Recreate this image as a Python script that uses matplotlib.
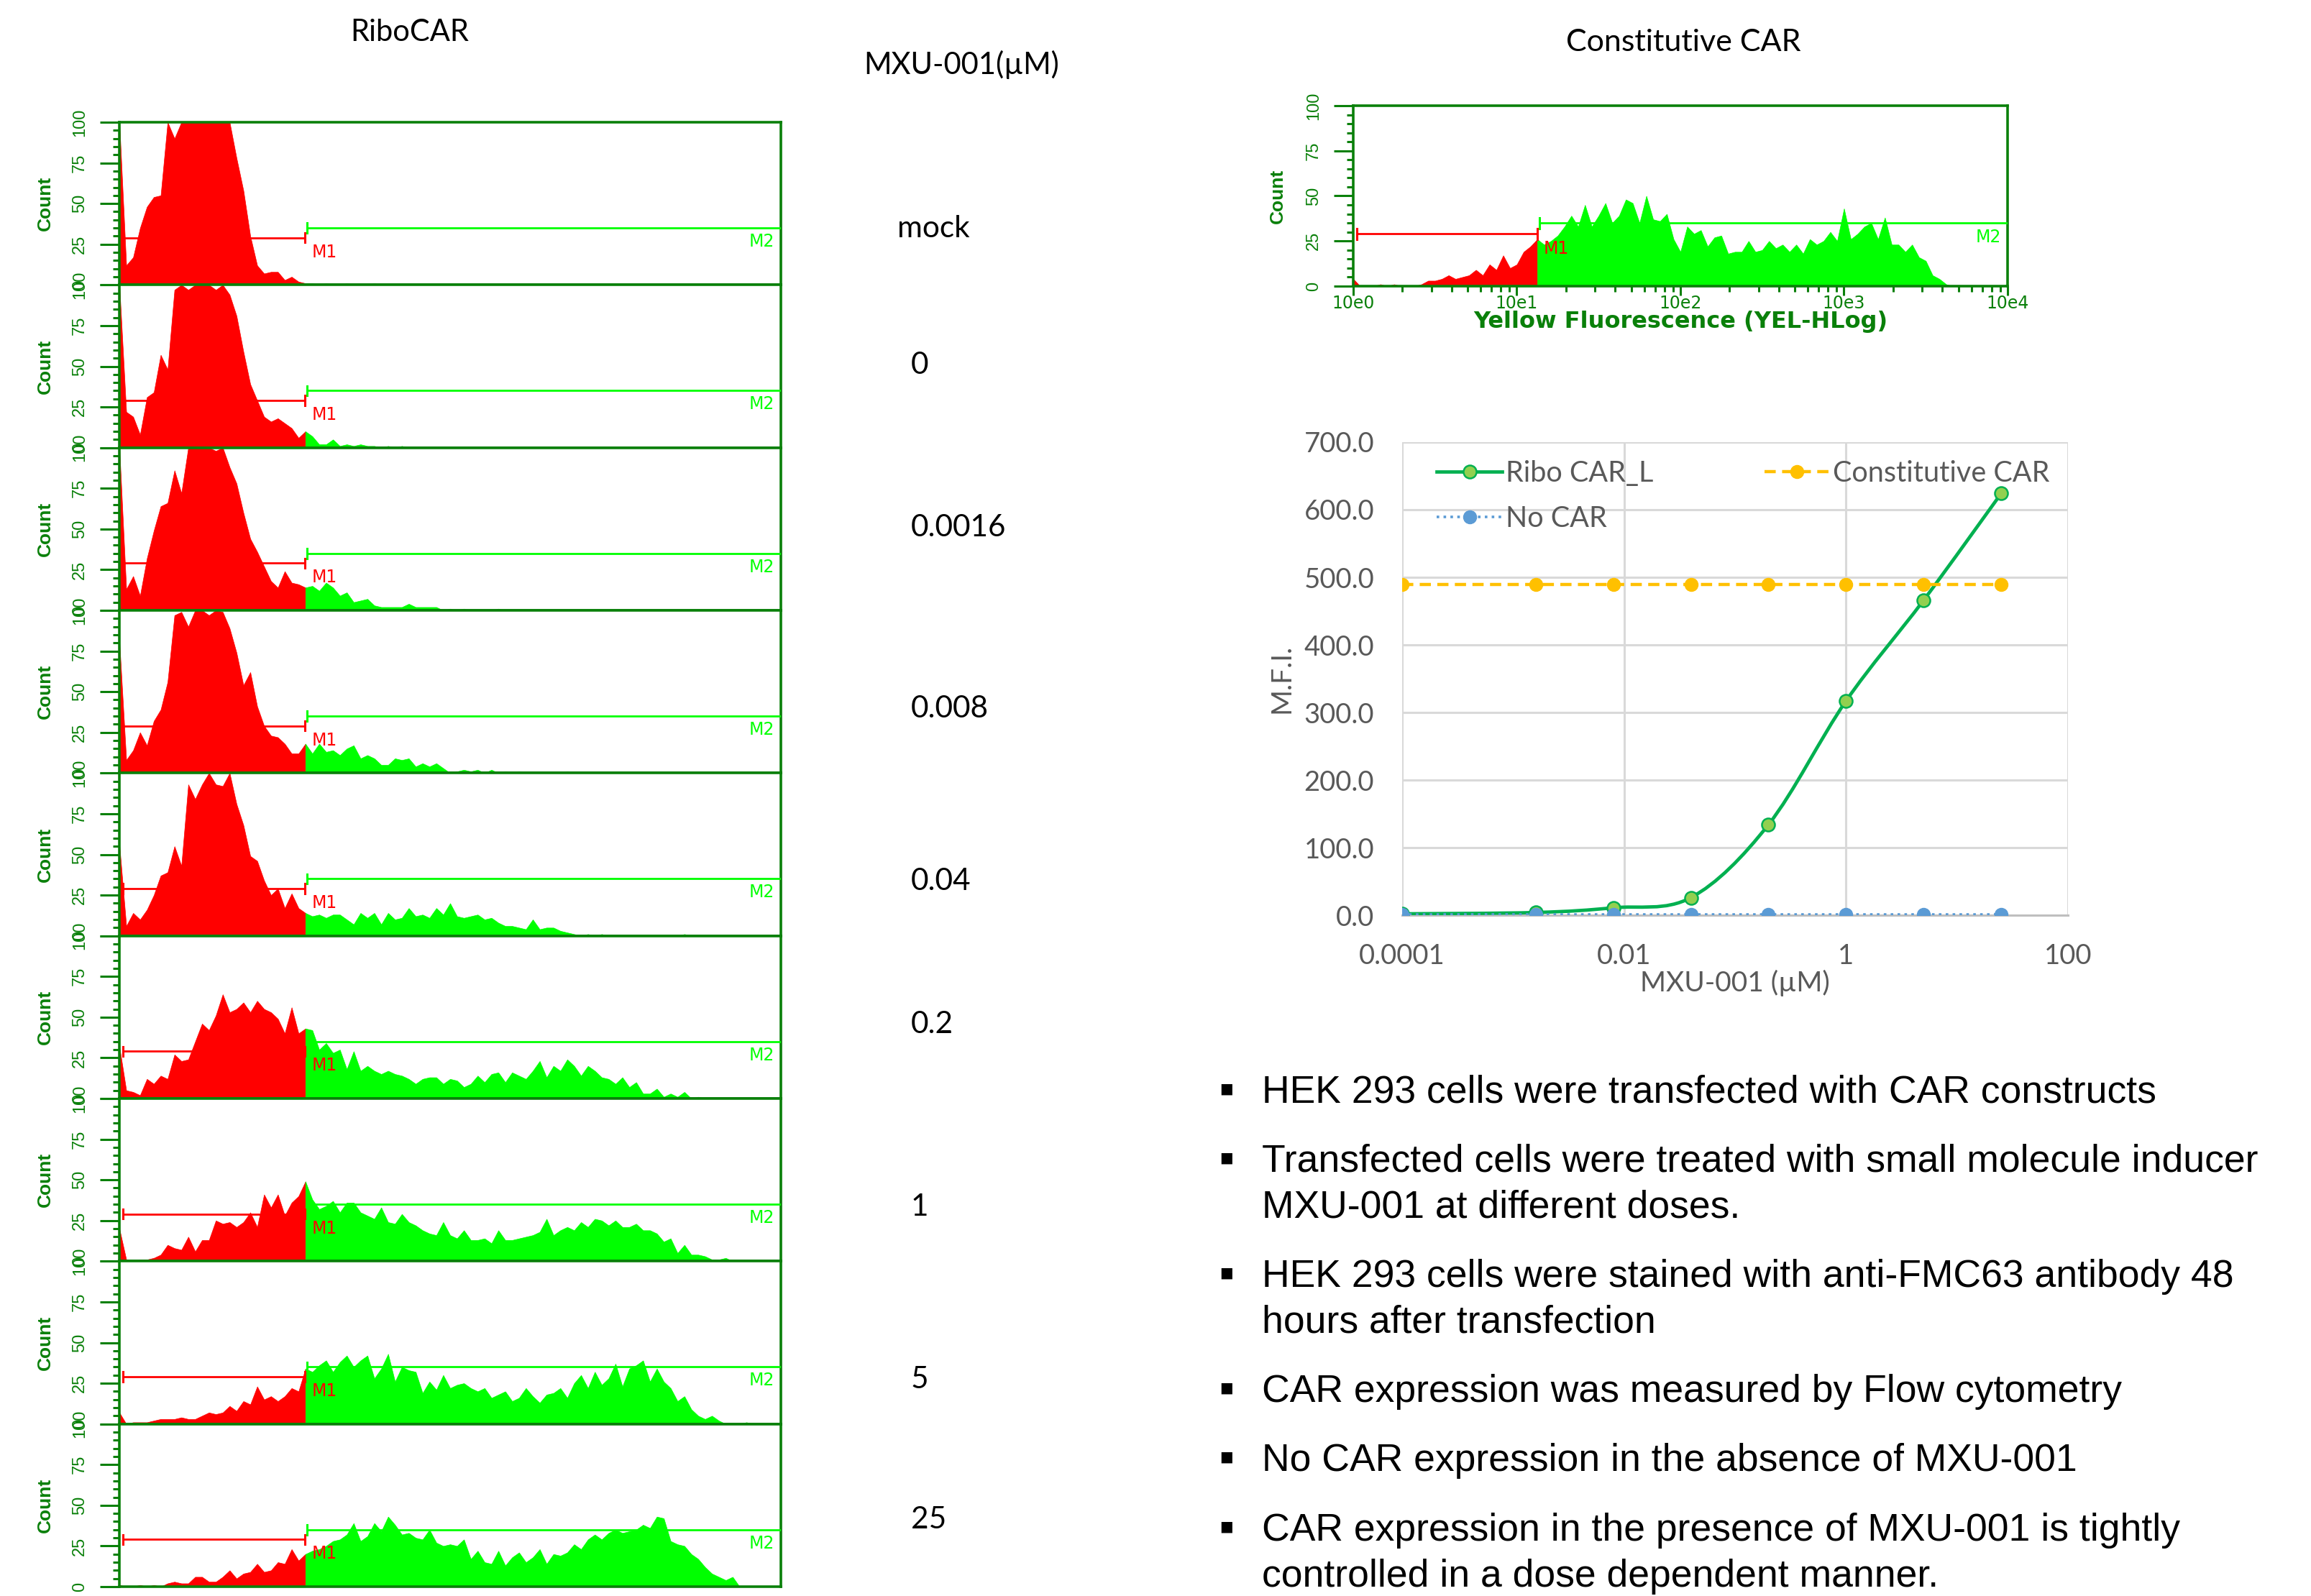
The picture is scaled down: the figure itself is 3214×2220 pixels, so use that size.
import numpy as np
import matplotlib
matplotlib.use("Agg")
import matplotlib.pyplot as plt
from matplotlib.lines import Line2D
from matplotlib.patches import PathPatch
from matplotlib.path import Path
from matplotlib.ticker import FixedLocator, MultipleLocator, NullLocator

FIG_W, FIG_H, DPI = 3214, 2220, 100

# ---- flow histograms: 24 channels per decade on the 10e0..10e4 YEL-HLog axis ----
CHANNELS_PER_DECADE = 24
GATE_CHANNEL = 27                 # M1 | M2 boundary
M1_RANGE = (1.05, 13.3)
M1_LEVEL = 29
M2_RANGE = (13.7, 10000.0)
M2_LEVEL = 35

DOSE_LABELS = ["mock", "0", "0.0016", "0.008", "0.04", "0.2", "1", "5", "25"]

HIST_MOCK = [
    100, 12, 17, 35, 48, 54, 55, 100, 90, 100, 100, 100, 100, 100, 100, 100,
    100, 78, 58, 30, 12, 7, 8, 8, 3, 5, 2, 1,
    1, 0, 1, 0, 0, 1, 0, 0, 0, 1, 0, 0, 0, 0, 0, 0, 0, 0, 0, 0, 0, 0, 0, 0,
    0, 0, 0, 0, 0, 0, 0, 0, 0, 0, 0, 0, 0, 0, 0, 0, 0, 0, 0, 0, 0, 0, 0, 0,
    0, 0, 0, 0, 0, 0, 0, 0, 0, 0, 0, 0, 0, 0, 0, 0, 0,
]
HIST_0 = [
    100, 22, 19, 8, 31, 34, 57, 48, 97, 100, 97, 100, 100, 100, 97, 100,
    94, 81, 59, 39, 29, 19, 16, 18, 15, 12, 6, 10,
    7, 2, 2, 5, 1, 2, 1, 2, 1, 1, 0, 1, 0, 1, 0, 0, 0, 0, 0, 0, 0, 0, 0, 0,
    0, 0, 0, 0, 0, 0, 0, 0, 0, 0, 0, 0, 0, 0, 0, 0, 0, 0, 0, 0, 0, 0, 0, 0,
    0, 0, 0, 0, 0, 0, 0, 0, 0, 0, 0, 0, 0, 0, 0, 0, 0,
]
HIST_0_0016 = [
    100, 13, 21, 9, 32, 49, 64, 66, 86, 72, 100, 100, 100, 100, 98, 100,
    88, 78, 60, 44, 36, 27, 18, 14, 24, 17, 16, 14,
    15, 12, 17, 14, 9, 11, 5, 6, 7, 3, 2, 2, 2, 2, 4, 2, 2, 2, 2, 0, 1, 0,
    1, 0, 0, 0, 0, 1, 0, 0, 0, 0, 0, 0, 0, 0, 0, 0, 0, 0, 0, 0, 0, 0, 0, 0,
    0, 0, 0, 0, 0, 0, 0, 0, 0, 0, 0, 0, 0, 0, 0, 0, 0, 0, 0, 0, 0, 0, 0,
]
HIST_0_008 = [
    81, 8, 14, 25, 17, 32, 39, 56, 97, 99, 90, 100, 100, 97, 100, 99,
    89, 74, 54, 62, 41, 29, 23, 22, 18, 12, 12, 18,
    12, 18, 13, 14, 11, 15, 17, 9, 11, 9, 5, 5, 9, 8, 9, 4, 6, 4, 6, 3, 0, 1,
    2, 1, 2, 0, 2, 0, 1, 0, 1, 0, 0, 0, 0, 0, 0, 1, 0, 0, 0, 0, 0, 0, 0, 0,
    0, 0, 0, 0, 0, 0, 0, 0, 0, 0, 0, 0, 0, 0, 0, 0, 0, 0, 0, 0, 0, 0, 0,
]
HIST_0_04 = [
    56, 6, 14, 10, 16, 25, 37, 39, 55, 43, 93, 84, 93, 100, 93, 92,
    100, 81, 68, 49, 46, 34, 25, 29, 17, 26, 17, 14,
    12, 13, 11, 13, 13, 10, 7, 14, 11, 14, 7, 14, 10, 11, 17, 12, 13, 11, 17, 13,
    20, 12, 11, 12, 13, 10, 11, 8, 6, 6, 5, 4, 10, 4, 5, 5, 3, 2, 1, 0, 1, 0,
    1, 0, 0, 0, 0, 0, 0, 0, 0, 0, 0, 0, 1, 0, 0, 0, 0, 0, 0, 0, 0, 0, 0, 0, 0, 0,
]
HIST_0_2 = [
    32, 5, 4, 2, 12, 9, 14, 12, 27, 23, 24, 35, 46, 42, 51, 64,
    53, 55, 59, 53, 60, 55, 53, 49, 40, 56, 40, 43,
    42, 30, 34, 28, 30, 18, 29, 17, 20, 17, 15, 17, 15, 14, 12, 9, 12, 13, 13, 9,
    12, 11, 7, 9, 14, 10, 15, 16, 10, 16, 14, 12, 17, 23, 13, 20, 17, 24, 20, 14,
    20, 17, 13, 12, 9, 13, 7, 10, 3, 3, 6, 1, 3, 1, 4, 0, 1,
    0, 0, 0, 0, 0, 0, 0, 0, 0, 0, 0, 0,
]
HIST_1 = [
    20, 1, 0, 1, 1, 2, 4, 10, 8, 7, 15, 6, 13, 13, 25, 23,
    24, 21, 24, 30, 21, 41, 33, 41, 28, 36, 40, 49,
    38, 32, 34, 37, 30, 36, 36, 30, 28, 26, 33, 24, 23, 29, 24, 22, 19, 17, 16, 24,
    16, 14, 19, 13, 13, 14, 11, 19, 13, 13, 14, 15, 16, 18, 26, 16, 19, 21, 19, 24,
    21, 26, 25, 22, 25, 21, 21, 23, 19, 19, 17, 12, 14, 5, 10, 4, 4, 3, 1, 1,
    2, 0, 0, 0, 0, 0, 0, 1, 0,
]
HIST_5 = [
    7, 0, 1, 1, 1, 2, 3, 3, 3, 4, 3, 3, 5, 7, 6, 7,
    11, 8, 14, 12, 23, 15, 17, 14, 17, 22, 20, 34,
    32, 36, 39, 32, 38, 42, 35, 39, 42, 28, 34, 43, 26, 35, 33, 32, 19, 26, 21, 30,
    22, 24, 25, 22, 20, 22, 16, 18, 20, 14, 16, 22, 17, 13, 18, 19, 22, 16, 25, 30,
    22, 32, 24, 28, 37, 23, 34, 36, 39, 26, 34, 26, 22, 14, 17, 9, 5, 3, 5, 2,
    0, 0, 0, 1, 0, 0, 0, 0, 0,
]
HIST_25 = [
    1, 0, 0, 1, 0, 1, 0, 2, 3, 2, 2, 6, 6, 3, 3, 6,
    10, 5, 8, 9, 14, 9, 10, 15, 14, 23, 16, 20,
    22, 23, 25, 28, 29, 32, 39, 28, 31, 39, 34, 43, 38, 32, 33, 30, 29, 35, 27, 25,
    26, 25, 29, 17, 22, 15, 14, 22, 13, 18, 21, 15, 18, 23, 14, 20, 19, 21, 26, 23,
    29, 32, 29, 33, 35, 33, 34, 35, 38, 36, 43, 42, 28, 26, 25, 20, 17, 12, 8, 6,
    4, 6, 0, 0, 0, 0, 0, 0, 0,
]
HIST_RIBOCAR = [HIST_MOCK, HIST_0, HIST_0_0016, HIST_0_008, HIST_0_04,
                HIST_0_2, HIST_1, HIST_5, HIST_25]

HIST_CONSTITUTIVE = [
    4, 0, 0, 0, 1, 0, 1, 0, 0, 0, 1, 3, 3, 4, 6, 4,
    5, 6, 9, 6, 12, 9, 17, 10, 12, 19, 22, 26,
    23, 25, 28, 33, 39, 33, 45, 33, 39, 46, 35, 39, 48, 46, 35, 50, 37, 36, 40, 26,
    19, 33, 29, 31, 22, 27, 28, 18, 19, 19, 25, 19, 20, 25, 21, 23, 19, 23, 18, 26,
    23, 25, 30, 25, 43, 26, 29, 33, 35, 26, 38, 23, 23, 19, 23, 16, 14, 6, 4, 1,
    0, 0, 0, 0, 0, 0, 0, 0, 1,
]
DECADE_LABELS = ["10e0", "10e1", "10e2", "10e3", "10e4"]
COUNT_TICKS = [0, 25, 50, 75, 100]

# ---- dose response (M.F.I.) ----
DOSE_UM = [0.0001, 0.0016, 0.008, 0.04, 0.2, 1, 5, 25]
MFI_RIBO_CAR_L = [2, 4, 11, 26, 134, 317, 466, 624]
MFI_CONSTITUTIVE_CAR = [489, 489, 489, 489, 489, 489, 489, 489]
MFI_NO_CAR = [1, 1, 1, 1, 1, 1, 1, 1]
DOSE_TICKS = [0.0001, 0.01, 1, 100]
DOSE_TICK_LABELS = ["0.0001", "0.01", "1", "100"]
MFI_TICKS = [0, 100, 200, 300, 400, 500, 600, 700]

BULLETS = [
    ["HEK 293 cells were transfected with CAR constructs"],
    ["Transfected cells were treated with small molecule inducer",
     "MXU-001 at different doses."],
    ["HEK 293 cells were stained with anti-FMC63 antibody 48",
     "hours after transfection"],
    ["CAR expression was measured by Flow cytometry"],
    ["No CAR expression in the absence of MXU-001"],
    ["CAR expression in the presence of MXU-001 is tightly",
     "controlled in a dose dependent manner."],
]

HIST_RED = "#FF0000"
HIST_LIME = "#00FF00"
FRAME_GREEN = "#0A800A"
GRAY_TEXT = "#595959"

plt.rcParams["font.family"] = ["Lato", "DejaVu Sans"]


def px_axes(fig, x0, y0, x1, y1):
    return fig.add_axes([x0 / FIG_W, 1 - y1 / FIG_H, (x1 - x0) / FIG_W, (y1 - y0) / FIG_H])


def draw_histogram(ax, counts, with_xaxis=False):
    counts = np.asarray(counts, dtype=float)
    chan = np.arange(len(counts)) / CHANNELS_PER_DECADE
    g = GATE_CHANNEL
    ax.fill_between(chan[:g + 1], counts[:g + 1], color=HIST_RED, lw=0.5, zorder=2)
    ax.fill_between(chan[g:], counts[g:], color=HIST_LIME, lw=0.5, zorder=2)

    m1 = np.log10(M1_RANGE)
    m2 = np.log10(M2_RANGE)
    ax.plot(m1, [M1_LEVEL, M1_LEVEL], color=HIST_RED, lw=2, zorder=3)
    for xm in m1:
        ax.plot([xm, xm], [M1_LEVEL - 3, M1_LEVEL + 3], color=HIST_RED, lw=2.2, zorder=3)
    ax.text(m1[1] + 0.04, M1_LEVEL - 3.5, "M1", color=HIST_RED, fontsize=17,
            family="DejaVu Sans", ha="left", va="top", zorder=4)
    ax.plot(m2, [M2_LEVEL, M2_LEVEL], color=HIST_LIME, lw=2, zorder=3)
    ax.plot([m2[0], m2[0]], [M2_LEVEL - 3, M2_LEVEL + 3], color=HIST_LIME, lw=2.2, zorder=3)
    ax.text(m2[1] - 0.04, M2_LEVEL - 3, "M2", color=HIST_LIME, fontsize=17,
            family="DejaVu Sans", ha="right", va="top", zorder=4)

    ax.set_xlim(0, 4)
    ax.set_ylim(0, 100)
    for side in ax.spines.values():
        side.set_color(FRAME_GREEN)
        side.set_linewidth(2.6)
    ax.yaxis.set_major_locator(FixedLocator(COUNT_TICKS))
    ax.yaxis.set_minor_locator(MultipleLocator(5))
    ax.set_yticklabels([str(v) for v in COUNT_TICKS], rotation=90, va="center",
                       family="Liberation Sans")
    ax.tick_params(axis="y", which="major", direction="out", length=19.5, width=2.2,
                   color=FRAME_GREEN, labelcolor=FRAME_GREEN, labelsize=17, pad=12)
    ax.tick_params(axis="y", which="minor", direction="out", length=6.5, width=2.2,
                   color=FRAME_GREEN)
    ax.set_ylabel("Count", color=FRAME_GREEN, fontsize=19, fontweight="bold",
                  family="Liberation Sans")

    if with_xaxis:
        ax.xaxis.set_major_locator(FixedLocator(range(len(DECADE_LABELS))))
        minor = [d + np.log10(k) for d in range(4) for k in range(2, 10)]
        ax.xaxis.set_minor_locator(FixedLocator(minor))
        ax.set_xticklabels(DECADE_LABELS, family="DejaVu Sans")
        ax.tick_params(axis="x", which="major", direction="out", length=9, width=2.2,
                       color=FRAME_GREEN, labelcolor=FRAME_GREEN, labelsize=17, pad=0)
        ax.tick_params(axis="x", which="minor", direction="out", length=6, width=2.2,
                       color=FRAME_GREEN)
        ax.set_xlabel("Yellow Fluorescence (YEL-HLog)", color=FRAME_GREEN, fontsize=23,
                      fontweight="bold", family="DejaVu Sans", va="center")
    else:
        ax.xaxis.set_major_locator(NullLocator())
        ax.xaxis.set_minor_locator(NullLocator())


fig = plt.figure(figsize=(FIG_W / DPI, FIG_H / DPI), dpi=DPI)
fig.patch.set_facecolor("white")

# ---- RiboCAR histogram stack ----
panel_top, panel_bottom = 170, 2207
panel_h = (panel_bottom - panel_top) / len(HIST_RIBOCAR)
for k, counts in enumerate(HIST_RIBOCAR):
    y0 = panel_top + k * panel_h
    ax = px_axes(fig, 166, y0, 1086, y0 + panel_h)
    draw_histogram(ax, counts)
    ax.yaxis.set_label_coords(-0.099, 0.5)

fig.text(570 / FIG_W, 1 - 45 / FIG_H, "RiboCAR", fontsize=30, ha="center", va="center")
fig.text(1337 / FIG_W, 1 - 90 / FIG_H, "MXU-001(\u00b5M)", fontsize=30, ha="center",
         va="center")
label_y = [318, 508, 734, 986, 1226, 1425, 1679, 1919, 2114]
for lab, ly in zip(DOSE_LABELS, label_y):
    lx = 1248 if lab == "mock" else 1267
    fig.text(lx / FIG_W, 1 - ly / FIG_H, lab, fontsize=30.5, ha="left", va="center")

# ---- constitutive CAR histogram ----
fig.text(2341 / FIG_W, 1 - 59 / FIG_H, "Constitutive CAR", fontsize=31, ha="center",
         va="center")
ax_c = px_axes(fig, 1882, 147, 2792, 398)
draw_histogram(ax_c, HIST_CONSTITUTIVE, with_xaxis=True)
ax_c.yaxis.set_label_coords(-0.102, 0.5)
ax_c.xaxis.set_label_coords(0.5, -0.197)

# ---- dose response ----
ax = px_axes(fig, 1950, 615, 2876, 1273)
ax.set_xscale("log")
ax.set_xlim(DOSE_TICKS[0], DOSE_TICKS[-1])
ax.set_ylim(MFI_TICKS[0], MFI_TICKS[-1])
ax.set_xticks(DOSE_TICKS, DOSE_TICK_LABELS)
ax.xaxis.set_minor_locator(NullLocator())
ax.set_yticks(MFI_TICKS, [f"{v:.1f}" for v in MFI_TICKS])
ax.set_axisbelow(True)
ax.grid(True, color="#D9D9D9", lw=2.2)
for s in ("top", "right", "left"):
    ax.spines[s].set_visible(False)
ax.spines["bottom"].set_color("#BFBFBF")
ax.spines["bottom"].set_linewidth(2.2)
ax.tick_params(length=0, pad=28, labelsize=27.5, labelcolor=GRAY_TEXT)

# smoothed (Excel-style) curve through the RiboCAR points, built in log-x space
lx = np.log10(DOSE_UM)
pts = np.column_stack([lx, np.asarray(MFI_RIBO_CAR_L, dtype=float)])
verts, codes = [pts[0]], [Path.MOVETO]
for k in range(len(pts) - 1):
    p0, p1 = pts[max(k - 1, 0)], pts[k]
    p2, p3 = pts[k + 1], pts[min(k + 2, len(pts) - 1)]
    verts += [p1 + (p2 - p0) / 6, p2 - (p3 - p1) / 6, p2]
    codes += [Path.CURVE4] * 3
verts = np.array(verts)
verts[:, 0] = 10 ** verts[:, 0]
ax.add_patch(PathPatch(Path(verts, codes), fill=False, edgecolor="#00B050", lw=3.4,
                       zorder=3))
ax.plot(DOSE_UM, MFI_RIBO_CAR_L, ls="none", marker="o", ms=13, mfc="#92D050",
        mec="#00B050", mew=1.8, zorder=4)
ax.plot(DOSE_UM, MFI_CONSTITUTIVE_CAR, color="#FFC000", lw=3.2, dashes=(3.5, 2),
        marker="o", ms=13, mfc="#FFC000", mec="#FFC000", zorder=4)
ax.plot(DOSE_UM, MFI_NO_CAR, color="#5B9BD5", lw=2.6, ls=":", marker="o", ms=13,
        mfc="#5B9BD5", mec="#5B9BD5", zorder=5)

handles = [
    Line2D([], [], color="#00B050", lw=3.4, marker="o", ms=13, mfc="#92D050",
           mec="#00B050", mew=1.8),
    Line2D([], [], color="#5B9BD5", lw=2.6, ls=":", marker="o", ms=13, mfc="#5B9BD5",
           mec="#5B9BD5"),
    Line2D([], [], color="#FFC000", lw=3.2, dashes=(3.5, 2), marker="o", ms=13,
           mfc="#FFC000", mec="#FFC000"),
]
leg = ax.legend(handles, ["Ribo CAR_L", "No CAR", "Constitutive CAR"], ncol=2,
                loc="upper left", bbox_to_anchor=(0.052, 0.962), frameon=False,
                fontsize=28.5, handlelength=2.3, handletextpad=0.12, columnspacing=3.9,
                labelspacing=0.66, borderpad=0, borderaxespad=0)
for t in leg.get_texts():
    t.set_color(GRAY_TEXT)

ax.set_xlabel("MXU-001 (\u00b5M)", fontsize=28, color=GRAY_TEXT, va="center")
ax.xaxis.set_label_coords(0.5, -0.143)
ax.set_ylabel("M.F.I.", fontsize=28, color=GRAY_TEXT)
ax.yaxis.set_label_coords(-0.161, 0.5)

# ---- bullet notes ----
line_step = 64
bullet_y = [1515, 1611, 1771, 1931, 2027, 2124]
for lines, by in zip(BULLETS, bullet_y):
    fig.text(1706 / FIG_W, 1 - by / FIG_H, "\u25aa", fontsize=22, ha="center",
             va="center", family="DejaVu Sans")
    for j, line in enumerate(lines):
        base = by + j * line_step + 19
        fig.text(1755 / FIG_W, 1 - base / FIG_H, line, fontsize=38.5, ha="left",
                 va="baseline", family=["Liberation Sans", "DejaVu Sans"])

fig.savefig("out.png", dpi=DPI, facecolor="white")
